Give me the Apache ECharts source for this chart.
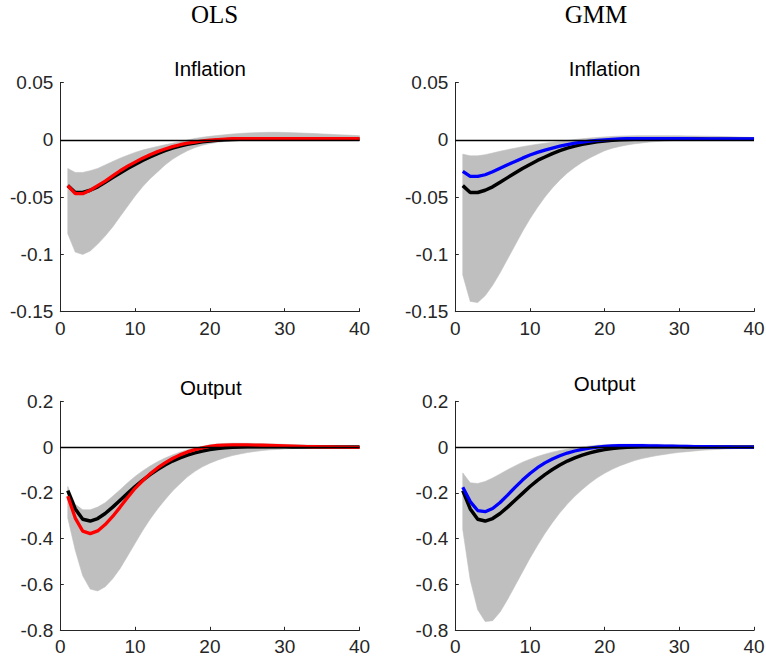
<!DOCTYPE html>
<html><head><meta charset="utf-8">
<script src="https://cdn.jsdelivr.net/npm/echarts@6/dist/echarts.min.js"></script>
<style>html,body{margin:0;padding:0;background:#fff}#c{width:766px;height:664px}</style>
</head><body><div id="c"></div>
<script>
const periods = [1,2,3,4,5,6,7,8,9,10,11,12,13,14,15,16,17,18,19,20,21,22,23,24,25,26,27,28,29,30,31,32,33,34,35,36,37,38,39,40];

const columnTitles = ['OLS', 'GMM'];
const panelTitles = ['Inflation', 'Output'];

// Inflation: true (black) response, shared by both columns
const inflationBase = [-0.040,-0.046,-0.046,-0.044,-0.041,-0.037,-0.033,-0.029,-0.025,-0.0215,-0.018,-0.015,-0.012,-0.0095,-0.0073,-0.0055,-0.004,-0.0028,-0.0018,-0.001,-0.0004,0.0,0.0003,0.0005,0.0006,0.0007,0.0007,0.0007,0.0007,0.0007,0.0006,0.0006,0.0006,0.0005,0.0005,0.0005,0.0005,0.0004,0.0004,0.0004];
// Inflation OLS
const inflationOLS = [-0.040,-0.047,-0.047,-0.044,-0.040,-0.036,-0.0315,-0.027,-0.023,-0.0195,-0.016,-0.013,-0.0103,-0.008,-0.006,-0.0043,-0.003,-0.002,-0.001,-0.0003,0.0002,0.0006,0.0009,0.001,0.0011,0.0011,0.0011,0.0011,0.0011,0.0011,0.001,0.001,0.001,0.001,0.001,0.0009,0.0009,0.0009,0.0009,0.0009];
const inflationOLSUpper = [-0.025,-0.0285,-0.0285,-0.027,-0.025,-0.022,-0.019,-0.016,-0.0135,-0.011,-0.009,-0.0073,-0.0058,-0.0044,-0.003,-0.0016,-0.0002,0.0012,0.0022,0.003,0.0037,0.0044,0.005,0.0055,0.0059,0.0062,0.0064,0.0065,0.0065,0.0064,0.0062,0.006,0.0057,0.0054,0.0051,0.0048,0.0045,0.0042,0.0039,0.0036];
const inflationOLSLower = [-0.082,-0.098,-0.100,-0.097,-0.091,-0.084,-0.076,-0.067,-0.058,-0.049,-0.041,-0.034,-0.028,-0.022,-0.017,-0.013,-0.0095,-0.0068,-0.0048,-0.0033,-0.0022,-0.0014,-0.0008,-0.0004,-0.0001,0.0001,0.0002,0.0003,0.0003,0.0003,0.0003,0.0003,0.0003,0.0003,0.0003,0.0003,0.0003,0.0003,0.0003,0.0003];
// Inflation GMM
const inflationGMM = [-0.0275,-0.032,-0.032,-0.0305,-0.0278,-0.0248,-0.0218,-0.019,-0.016,-0.0133,-0.011,-0.009,-0.0072,-0.0056,-0.0042,-0.003,-0.002,-0.0012,-0.0005,0.0,0.0004,0.0007,0.0009,0.001,0.001,0.001,0.001,0.001,0.0009,0.0009,0.0009,0.0008,0.0008,0.0008,0.0008,0.0007,0.0007,0.0007,0.0007,0.0007];
const inflationGMMUpper = [-0.0125,-0.014,-0.014,-0.013,-0.0116,-0.010,-0.0086,-0.0073,-0.006,-0.0049,-0.0039,-0.003,-0.0022,-0.0014,-0.0006,0.0002,0.0009,0.0015,0.002,0.0025,0.0029,0.0032,0.0034,0.0035,0.0036,0.0036,0.0036,0.0036,0.0035,0.0035,0.0034,0.0033,0.0032,0.0031,0.003,0.0028,0.0026,0.0024,0.0022,0.002];
const inflationGMMLower = [-0.118,-0.141,-0.142,-0.136,-0.127,-0.116,-0.104,-0.092,-0.080,-0.069,-0.059,-0.050,-0.042,-0.035,-0.029,-0.024,-0.0195,-0.0158,-0.0126,-0.0095,-0.0074,-0.0058,-0.0045,-0.0035,-0.0027,-0.002,-0.0015,-0.001,-0.0007,-0.0004,-0.0002,-0.0001,0.0,0.0,0.0001,0.0001,0.0001,0.0001,0.0001,0.0001];

// Output: true (black) response, shared by both columns
const outputBase = [-0.19,-0.27,-0.315,-0.323,-0.312,-0.29,-0.262,-0.232,-0.202,-0.172,-0.145,-0.12,-0.098,-0.078,-0.061,-0.047,-0.035,-0.025,-0.017,-0.011,-0.006,-0.003,-0.001,0.0005,0.001,0.0015,0.0015,0.0015,0.0012,0.001,0.0008,0.0006,0.0005,0.0004,0.0003,0.0002,0.0001,0.0,0.0,0.0];
// Output OLS
const outputOLS = [-0.214,-0.31,-0.367,-0.378,-0.366,-0.338,-0.303,-0.262,-0.22,-0.18,-0.147,-0.117,-0.091,-0.069,-0.05,-0.034,-0.021,-0.011,-0.003,0.003,0.007,0.009,0.01,0.01,0.0095,0.009,0.008,0.007,0.006,0.005,0.004,0.003,0.002,0.0015,0.001,0.0005,0.0,-0.0005,-0.001,-0.001];
const outputOLSUpper = [-0.172,-0.25,-0.274,-0.274,-0.262,-0.243,-0.215,-0.186,-0.156,-0.128,-0.104,-0.083,-0.064,-0.048,-0.034,-0.022,-0.012,-0.004,0.004,0.01,0.014,0.016,0.017,0.017,0.0165,0.016,0.015,0.014,0.013,0.012,0.011,0.01,0.009,0.008,0.007,0.006,0.0055,0.005,0.0045,0.004];
const outputOLSLower = [-0.31,-0.45,-0.562,-0.62,-0.628,-0.61,-0.575,-0.53,-0.475,-0.42,-0.365,-0.315,-0.27,-0.23,-0.192,-0.16,-0.13,-0.106,-0.086,-0.07,-0.057,-0.046,-0.037,-0.03,-0.024,-0.019,-0.015,-0.012,-0.01,-0.008,-0.0065,-0.0055,-0.0045,-0.004,-0.0035,-0.003,-0.0025,-0.002,-0.002,-0.0015];
// Output GMM
const outputGMM = [-0.175,-0.238,-0.277,-0.282,-0.268,-0.242,-0.21,-0.176,-0.144,-0.115,-0.09,-0.069,-0.052,-0.038,-0.026,-0.017,-0.01,-0.004,0.0,0.003,0.005,0.006,0.0065,0.0065,0.006,0.0055,0.005,0.0045,0.004,0.0035,0.003,0.0025,0.002,0.0015,0.001,0.0007,0.0004,0.0002,0.0,0.0];
const outputGMMUpper = [-0.113,-0.156,-0.159,-0.15,-0.135,-0.117,-0.099,-0.082,-0.066,-0.053,-0.041,-0.031,-0.022,-0.015,-0.009,-0.004,0.001,0.005,0.008,0.01,0.0115,0.0125,0.013,0.013,0.013,0.0125,0.012,0.0115,0.011,0.01,0.009,0.008,0.007,0.006,0.005,0.0045,0.004,0.0035,0.003,0.003];
const outputGMMLower = [-0.36,-0.58,-0.71,-0.762,-0.758,-0.72,-0.665,-0.605,-0.545,-0.485,-0.43,-0.377,-0.33,-0.287,-0.249,-0.215,-0.185,-0.158,-0.134,-0.114,-0.097,-0.082,-0.07,-0.059,-0.05,-0.043,-0.037,-0.032,-0.027,-0.023,-0.02,-0.017,-0.014,-0.012,-0.01,-0.0085,-0.007,-0.006,-0.005,-0.004];

const xTicks = [0, 10, 20, 30, 40];
const inflationTicks = [-0.15, -0.1, -0.05, 0, 0.05];
const outputTicks = [-0.8, -0.6, -0.4, -0.2, 0, 0.2];

const axisColor = '#262626';
const bandColor = '#bfbfbf';
const FONT = '"Liberation Sans", Arial, Helvetica, sans-serif';
const SERIF = '"Liberation Serif", "Times New Roman", serif';

const panels = [
  {grid: {left: 60.3, width: 299.2, top: 82.5, height: 229.2}, ticks: inflationTicks, base: inflationBase, est: inflationOLS, up: inflationOLSUpper, lo: inflationOLSLower, color: '#ff0000'},
  {grid: {left: 455.3, width: 298.7, top: 82.5, height: 229.2}, ticks: inflationTicks, base: inflationBase, est: inflationGMM, up: inflationGMMUpper, lo: inflationGMMLower, color: '#0000ff'},
  {grid: {left: 60.3, width: 299.2, top: 401.3, height: 229}, ticks: outputTicks, base: outputBase, est: outputOLS, up: outputOLSUpper, lo: outputOLSLower, color: '#ff0000'},
  {grid: {left: 455.3, width: 298.7, top: 401.3, height: 229}, ticks: outputTicks, base: outputBase, est: outputGMM, up: outputGMMUpper, lo: outputGMMLower, color: '#0000ff'}
];

function fmt(v) { return String(parseFloat(Number(v).toFixed(4))); }

const grids = [], xAxes = [], yAxes = [], series = [];
panels.forEach((p, i) => {
  grids.push(Object.assign({outerBoundsMode: 'none', containLabel: false}, p.grid));
  xAxes.push({
    type: 'value', gridIndex: i, min: xTicks[0], max: xTicks[xTicks.length - 1], interval: xTicks[1] - xTicks[0],
    axisLine: {show: true, onZero: false, lineStyle: {color: axisColor, width: 1}},
    axisTick: {show: true, inside: true, length: 3.5, lineStyle: {color: axisColor, width: 1}},
    axisLabel: {color: axisColor, fontFamily: FONT, fontSize: 19, margin: 7, formatter: fmt},
    splitLine: {show: false}
  });
  yAxes.push({
    type: 'value', gridIndex: i, min: p.ticks[0], max: p.ticks[p.ticks.length - 1],
    interval: Math.round((p.ticks[1] - p.ticks[0]) * 1000) / 1000,
    axisLine: {show: true, onZero: false, lineStyle: {color: axisColor, width: 1}},
    axisTick: {show: true, inside: true, length: 3.5, lineStyle: {color: axisColor, width: 1}},
    axisLabel: {color: axisColor, fontFamily: FONT, fontSize: 19, margin: 7, formatter: fmt},
    splitLine: {show: false}
  });
  // confidence band: one polygon built from the upper and lower bounds through the axes' scales
  const bandData = periods.map((t, k) => [t, p.lo[k], p.up[k]]);
  series.push({
    type: 'custom', xAxisIndex: i, yAxisIndex: i, silent: true, z: 1,
    data: bandData,
    encode: {x: 0, y: [1, 2]},
    renderItem: function (params, api) {
      if (params.dataIndex !== 0) return null;
      const pts = [];
      for (let k = 0; k < bandData.length; k++) pts.push(api.coord([bandData[k][0], bandData[k][2]]));
      for (let k = bandData.length - 1; k >= 0; k--) pts.push(api.coord([bandData[k][0], bandData[k][1]]));
      return {type: 'polygon', shape: {points: pts}, style: {fill: bandColor, stroke: bandColor, lineWidth: 0.6}};
    }
  });
  series.push({
    type: 'line', xAxisIndex: i, yAxisIndex: i, data: [], symbol: 'none', z: 2, silent: true,
    markLine: {silent: true, symbol: ['none', 'none'], label: {show: false},
      lineStyle: {color: '#000', width: 1.3, type: 'solid'}, data: [{yAxis: 0}], animation: false}
  });
  series.push({
    type: 'line', xAxisIndex: i, yAxisIndex: i, data: periods.map((t, k) => [t, p.base[k]]),
    symbol: 'none', lineStyle: {color: '#000', width: 3.5}, z: 3, silent: true
  });
  series.push({
    type: 'line', xAxisIndex: i, yAxisIndex: i, data: periods.map((t, k) => [t, p.est[k]]),
    symbol: 'none', lineStyle: {color: p.color, width: 3.3}, z: 4, silent: true
  });
});

function label(text, x, y, font, lh) {
  return {type: 'text', x: x, y: y, style: {text: text, font: font, fill: '#000', align: 'center', verticalAlign: 'middle', lineHeight: lh}};
}
const graphics = [
  label(columnTitles[0], 214.5, 14, '25px ' + SERIF, 25),
  label(columnTitles[1], 596, 14, '25px ' + SERIF, 25),
  label(panelTitles[0], 209.9, 68.5, '20.5px ' + FONT, 22),
  label(panelTitles[0], 604.6, 68.5, '20.5px ' + FONT, 22),
  label(panelTitles[1], 210.8, 387.5, '20.5px ' + FONT, 22),
  label(panelTitles[1], 604.6, 383.5, '20.5px ' + FONT, 22)
];

const chart = echarts.init(document.getElementById('c'), null, {renderer: 'svg', width: 766, height: 664});
chart.setOption({
  animation: false,
  backgroundColor: '#fff',
  grid: grids, xAxis: xAxes, yAxis: yAxes, series: series, graphic: graphics
});
</script></body></html>
